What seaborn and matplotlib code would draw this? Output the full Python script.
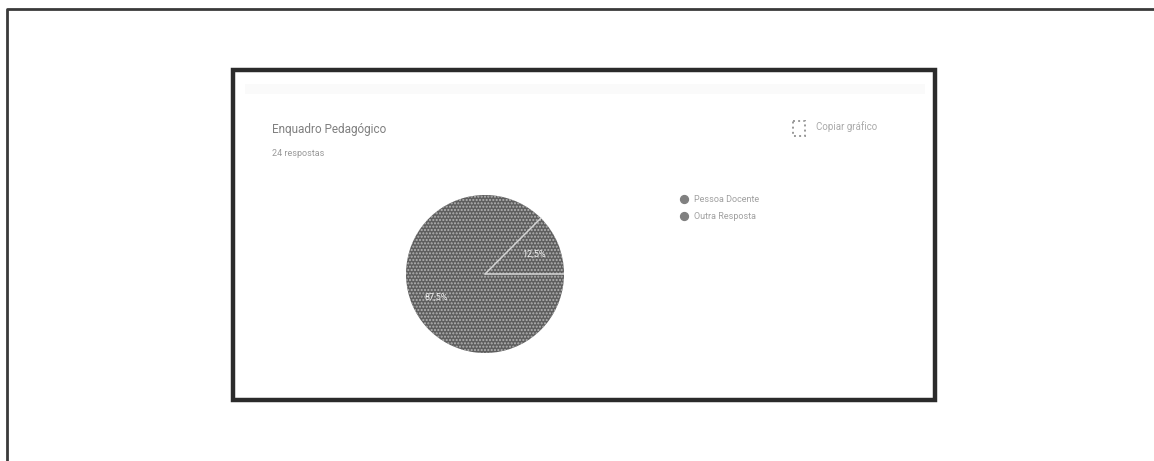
import numpy as np
import seaborn as sns
import matplotlib
matplotlib.use('Agg')
import matplotlib.pyplot as plt
from matplotlib.patches import Rectangle

# values
categories = ['Pessoa Docente', 'Outra Resposta']
shares = [87.5, 12.5]
slice_labels = ['87,5%', '12,5%']
title_text = 'Enquadro Pedagógico'
subtitle_text = '24 respostas'
copy_text = 'Copiar gráfico'

W, H = 1154, 461

sns.set_theme(style='white')
plt.rcParams['font.family'] = ['Roboto', 'DejaVu Sans']
pie_color = sns.dark_palette('#5e5e5e', n_colors=2)[1]

fig = plt.figure(figsize=(W / 100, H / 100), dpi=100, facecolor='white')

# page overlay in pixel coordinates
bg = fig.add_axes([0, 0, 1, 1])
bg.set_xlim(0, W)
bg.set_ylim(H, 0)
bg.axis('off')

# scan frames: the outer one only shows on the top and left
bg.plot([1154, 7, 7], [9, 9, 461], color='#3a3a3a', lw=2)
bg.add_patch(Rectangle((245, 84), 680, 10, fc='#fafafa', ec='none'))
bg.add_patch(Rectangle((233, 70), 702, 330, fill=False, ec='#2b2b2b', lw=3.2))

bg.text(272, 129, title_text, fontsize=8.5, color='#808080', va='center')
bg.text(272, 153, subtitle_text, fontsize=6.5, color='#999999', va='center')
bg.add_patch(Rectangle((793, 121), 12, 15, fill=False, ec='#999999', lw=1.4, ls=':'))
bg.text(816, 127, copy_text, fontsize=7, color='#aaaaaa', va='center')

# legend
for y, name in zip([199, 216], categories):
    bg.scatter([684], [y], s=32, color='#808080', marker='o')
    bg.text(694, y, name, fontsize=6.5, color='#a0a0a0', va='center')

# pie
r = 79
cx, cy = 485, 274
ax = fig.add_axes([(cx - r) / W, 1 - (cy + r) / H, 2 * r / W, 2 * r / H])
wedges, _ = ax.pie(shares, startangle=45, counterclock=True, radius=1,
                   colors=[pie_color, pie_color],
                   wedgeprops={'linewidth': 0})
ax.set_xlim(-1, 1)
ax.set_ylim(-1, 1)
for w in wedges:
    w.set_hatch('.....')
    w.set_edgecolor('#b4b4b4')

# slice separators from the wedge angles
for w in wedges:
    a = np.deg2rad(w.theta1)
    ax.plot([0, np.cos(a)], [0, np.sin(a)], color='#d4d4d4', lw=1.1)

ax.text(0.62, 0.25, slice_labels[1], fontsize=6.5, color='#f0f0f0', ha='center', va='center')
ax.text(-0.62, -0.29, slice_labels[0], fontsize=6.5, color='#f0f0f0', ha='center', va='center')

fig.savefig('out.png', dpi=100)
